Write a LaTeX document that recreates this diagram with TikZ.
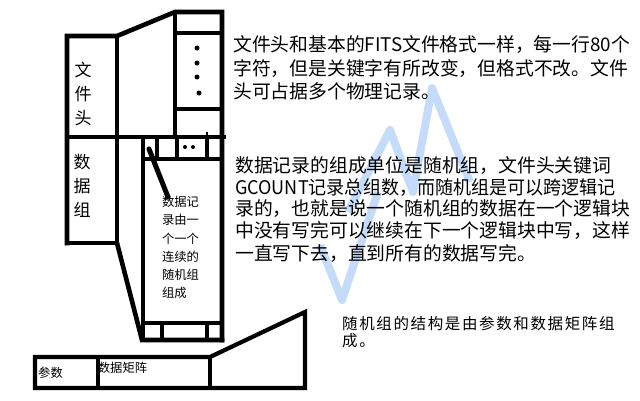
\documentclass[tikz,border=0pt]{standalone}
\usepackage{fontspec}
\usepackage{graphicx}
\setmainfont{Noto Sans CJK SC}
\newfontfamily\cjkls[LetterSpace=10.5]{Noto Sans CJK SC}
\definecolor{wm}{RGB}{196,220,250}
\begin{document}
\begin{tikzpicture}[x=1pt,y=-1pt,
  frame/.style={line width=4.6pt,line join=miter,line cap=rect},
  thin frame/.style={line width=4.2pt,line join=miter,line cap=rect},
  wmark/.style={draw=wm,line width=8pt,line join=round,line cap=butt},
  rline/.style={anchor=base west,inner sep=0,font=\fontsize{18.8}{23}\selectfont},
  rsmall/.style={anchor=base west,inner sep=0,font=\cjkls\fontsize{15.5}{17}\selectfont},
  bigv/.style={anchor=center,inner sep=0,align=center,font=\fontsize{17}{24}\selectfont},
  small/.style={anchor=center,inner sep=0,font=\fontsize{12.3}{18.2}\selectfont},
  dot/.style={fill=black,circle,inner sep=0,minimum size=5pt}]
\useasboundingbox[fill=white] (0,0) rectangle (640,400);

% watermark
\draw[wmark] (348,212) -- (390,130) -- (413,192) -- (432,88) -- (470,182);
\draw[wmark] (378,192) -- (342,300) -- (320,245);

% header / outline
\draw[frame] (67,243) -- (67,36) -- (117,36) -- (175,12) -- (222,12) -- (222,340);
\draw[frame] (117,36) -- (117,243) -- (67,243);
\draw[frame] (175,12) -- (175,137);
\draw[frame] (175,33) -- (222,33);
\draw[frame] (175,109) -- (222,109);
\draw[frame] (67,137) -- (224,137);
\draw[line width=2.5pt] (207,137) -- (207,132);
% random group column
\draw[frame] (117,243) -- (142,340) -- (222,340);
\draw[frame] (143,137) -- (143,340);
\draw[frame] (143,159) -- (222,159);
\draw[frame] (143,323) -- (222,323);
\foreach \xx in {157,177,207} \draw[frame] (\xx,137) -- (\xx,159);
\foreach \xx in {162,207} \draw[frame] (\xx,323) -- (\xx,340);
\draw[line width=5pt,line cap=round] (149,149) -- (168,197);
% dots
\node[dot] (d1) at (197,48) {};
\node[dot] (d2) at (197,63) {};
\node[dot] (d3) at (197,77) {};
\node[dot] (d4) at (199,93) {};
\node[dot,minimum size=4pt] (d5) at (185,147) {};
\node[dot,minimum size=4pt] (d6) at (193,147) {};
% bottom structure
\draw[thin frame] (35,357) -- (210,357) -- (305,312) -- (305,388) -- (35,388) -- cycle;
\draw[thin frame] (98,357) -- (98,388);
\draw[thin frame] (210,357) -- (210,388);

% labels in diagram
\node[bigv] (hdr) at (83,94.3) {文\\件\\头};
\node[bigv] (grp) at (82,186.3) {数\\据\\组};
\node[small,align=left] (rec) at (180.5,247.5) {数据记\\录由一\\个一个\\连续的\\随机组\\组成};
\node[small] (par) at (50.5,373) {参数};
\node[small] (mat) at (122.5,368) {数据矩阵};

% explanations
\node[rline] (t1a) at (233,51.5) {文件头和基本的FITS文件格式一样，每一行80个};
\node[rline] (t1b) at (233,75) {字符，但是关键字有所改变，但格式不改。文件};
\node[rline] (t1c) at (233,98.5) {头可占据多个物理记录。};
\node[rline] (t2a) at (235,172) {数据记录的组成单位是随机组，文件头关键词};
\node[rline] (t2b) at (235,194) {\scalebox{0.96}[1]{GCOUNT记录总组数，而随机组是可以跨逻辑记}};
\node[rline] (t2c) at (235,215.5) {录的，也就是说一个随机组的数据在一个逻辑块};
\node[rline] (t2d) at (235,237) {中没有写完可以继续在下一个逻辑块中写，这样};
\node[rline] (t2e) at (235,260) {一直写下去，直到所有的数据写完。};
\node[rsmall] (t3a) at (342,329) {随机组的结构是由参数和数据矩阵组};
\node[rsmall] (t3b) at (342,346) {成。};
\end{tikzpicture}
\end{document}
